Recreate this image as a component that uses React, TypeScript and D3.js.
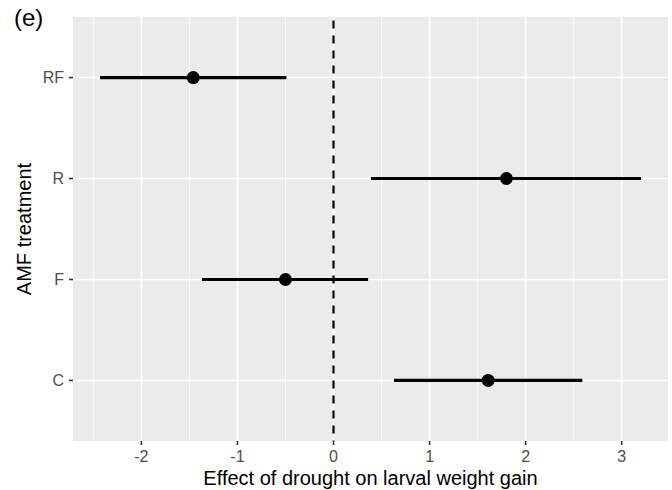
import * as d3 from 'd3';

const treatments = ['RF', 'R', 'F', 'C'];
const estimates = [-1.46, 1.80, -0.50, 1.61];
const lowerCI = [-2.43, 0.39, -1.37, 0.63];
const upperCI = [-0.49, 3.20, 0.36, 2.59];
const xTicks = [-2, -1, 0, 1, 2, 3];
const xMinor = [-2.5, -1.5, -0.5, 0.5, 1.5, 2.5];

const W = 672;
const H = 490;
const margin = { top: 17, right: 4, bottom: 49, left: 73 };
const font = 'Arial, "Liberation Sans", sans-serif';

export default function App() {
  const innerW = W - margin.left - margin.right;
  const innerH = H - margin.top - margin.bottom;

  const lo = d3.min(lowerCI) as number;
  const hi = d3.max(upperCI) as number;
  const pad = (hi - lo) * 0.05;
  const x = d3.scaleLinear().domain([lo - pad, hi + pad]).range([0, innerW]);

  // discrete scale with ggplot's 0.6 expansion
  const y = d3.scalePoint<string>().domain(treatments).range([0, innerH]).padding(0.6);

  return (
    <svg width={W} height={H} style={{ position: 'absolute', left: 0, top: 0 }} fontFamily={font}>
      <rect width={W} height={H} fill="#fff" />
      <text x={14} y={26} fontSize={24} fill="#000">(e)</text>
      <g transform={`translate(${margin.left},${margin.top})`}>
        <rect width={innerW} height={innerH} fill="#EBEBEB" />
        {xMinor.map(v => (
          <line key={'m' + v} x1={x(v)} x2={x(v)} y1={0} y2={innerH} stroke="#fff" strokeWidth={0.8} />
        ))}
        {xTicks.map(v => (
          <line key={'g' + v} x1={x(v)} x2={x(v)} y1={0} y2={innerH} stroke="#fff" strokeWidth={1.6} />
        ))}
        {treatments.map(t => (
          <line key={'h' + t} x1={0} x2={innerW} y1={y(t)} y2={y(t)} stroke="#fff" strokeWidth={1.6} />
        ))}
        <line x1={x(0)} x2={x(0)} y1={0} y2={innerH} stroke="#000" strokeWidth={2.2} strokeDasharray="8,7" strokeDashoffset={-3.5} />
        {treatments.map((t, i) => (
          <g key={t}>
            <line x1={x(lowerCI[i])} x2={x(upperCI[i])} y1={y(t)} y2={y(t)} stroke="#000" strokeWidth={3.2} />
            <circle cx={x(estimates[i])} cy={y(t)} r={6.5} fill="#000" />
          </g>
        ))}
        {/* x axis */}
        {xTicks.map(v => (
          <g key={'t' + v} transform={`translate(${x(v)},${innerH})`}>
            <line y1={0} y2={4} stroke="#333" strokeWidth={1.6} />
            <text y={21} textAnchor="middle" fontSize={16} fill="#4D4D4D">{v}</text>
          </g>
        ))}
        {/* y axis */}
        {treatments.map(t => (
          <g key={'y' + t} transform={`translate(0,${y(t)})`}>
            <line x1={-4} x2={0} stroke="#333" strokeWidth={1.6} />
            <text x={-9} dy="0.36em" textAnchor="end" fontSize={16} fill="#4D4D4D">{t}</text>
          </g>
        ))}
        <text x={innerW / 2} y={innerH + 44} textAnchor="middle" fontSize={20} fill="#000">
          Effect of drought on larval weight gain
        </text>
        <text transform={`translate(${-42},${innerH / 2}) rotate(-90)`} textAnchor="middle" fontSize={20} fill="#000">
          AMF treatment
        </text>
      </g>
    </svg>
  );
}
